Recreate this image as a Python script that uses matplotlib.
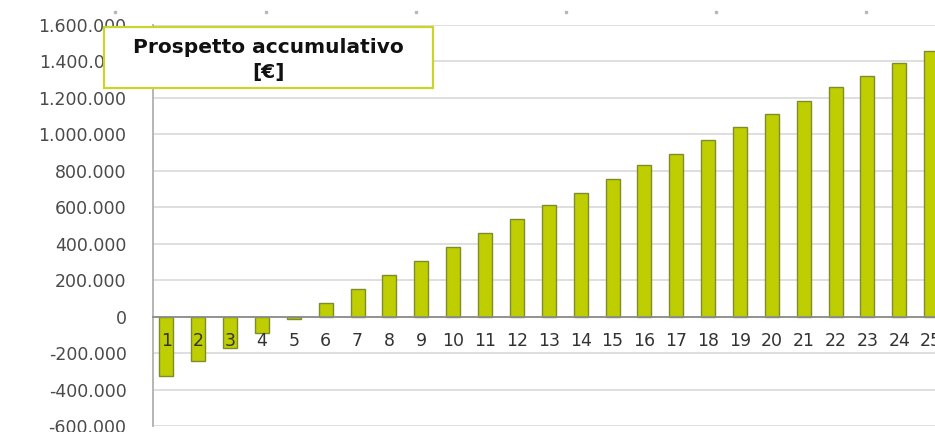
import matplotlib
matplotlib.use("Agg")
import matplotlib.pyplot as plt
from matplotlib.patches import Rectangle
from matplotlib.lines import Line2D
from matplotlib.ticker import FuncFormatter

years = list(range(1, 26))
values = [-328000, -246000, -170000, -89000, -13000, 75000, 151000, 228000,
          305000, 381000, 457000, 536000, 611000, 678000, 753000, 831000,
          895000, 971000, 1038000, 1114000, 1181000, 1258000, 1322000,
          1392000, 1456000]
yticks = [-600000, -400000, -200000, 0, 200000, 400000, 600000, 800000,
          1000000, 1200000, 1400000, 1600000]
title = "Prospetto accumulativo\n[€]"

W, H = 935, 432
fig = plt.figure(figsize=(W / 100, H / 100), dpi=100)
ax = fig.add_axes([153 / W, 1 - 426 / H, 1 - 153 / W, (426 - 25) / H])

ax.bar(years, values, width=0.44, color="#bfce00", edgecolor="#7d8c2c",
       linewidth=1.0, zorder=3)

ax.set_xlim(0.58, 25.12)
ax.set_ylim(-600000, 1600000)
ax.set_yticks(yticks)
ax.yaxis.set_major_formatter(FuncFormatter(
    lambda v, p: f"{int(v):,}".replace(",", ".")))
ax.grid(axis="y", color="#d9d9d9", linewidth=1.2)
ax.set_axisbelow(True)

ax.set_xticks(years)
ax.set_xticklabels([str(y) for y in years])
ax.spines["bottom"].set_position(("data", 0))
ax.spines["bottom"].set_color("#8c8c8c")
ax.spines["bottom"].set_linewidth(1.3)
ax.spines["bottom"].set_zorder(4)
ax.spines["left"].set_color("#b0b0b0")
ax.spines["left"].set_linewidth(1.3)
ax.spines["top"].set_visible(False)
ax.spines["right"].set_visible(False)
ax.xaxis.set_zorder(5)

ax.tick_params(axis="y", length=0, pad=19, labelsize=12.5, labelcolor="#4a4a4a")
ax.tick_params(axis="x", length=0, pad=11, labelsize=12.5, labelcolor="#333333")

# faint dotted outer border marks along the top
fig.add_artist(Line2D([115 / W, 266 / W, 416 / W, 566 / W, 716 / W, 866 / W],
                      [1 - 12 / H] * 6, linestyle="none", marker="s",
                      markersize=1.6, color="#b8b8b8",
                      transform=fig.transFigure))

fig.patches.append(Rectangle((104 / W, 1 - 88 / H), 329 / W, 61 / H,
                             transform=fig.transFigure, facecolor="white",
                             edgecolor="#c8d62c", linewidth=1.6, zorder=10))
fig.text(268.5 / W, 1 - 60 / H, title, ha="center", va="center",
         fontsize=14.5, fontweight="bold", color="#111111", linespacing=1.4,
         zorder=11)

fig.savefig("out.png", dpi=100)
